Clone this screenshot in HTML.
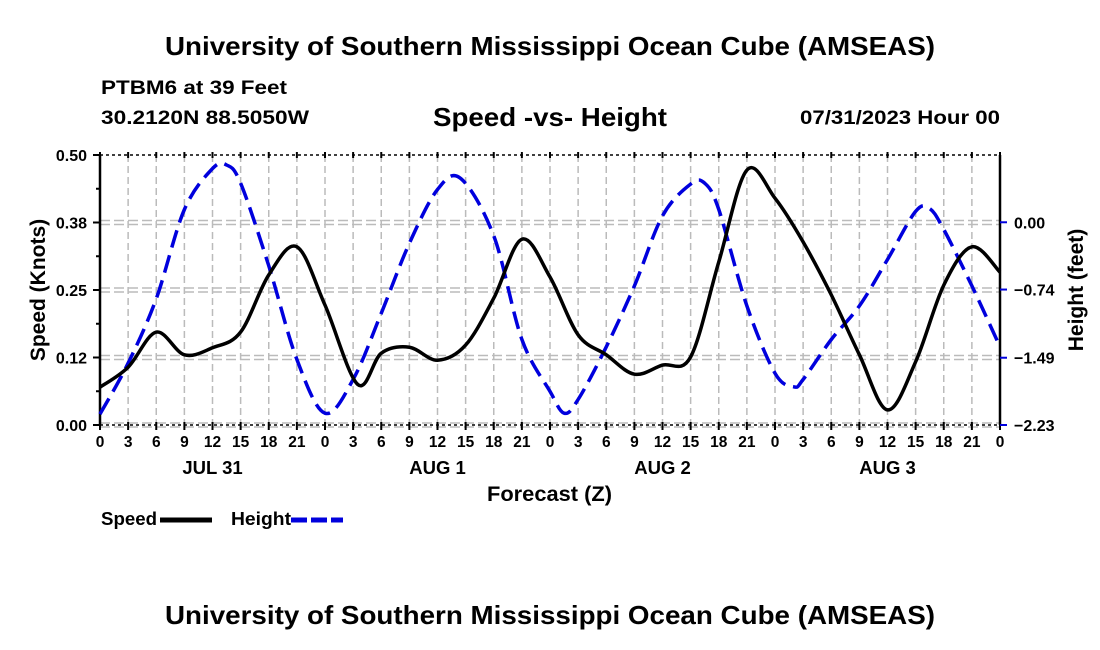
<!DOCTYPE html>
<html><head><meta charset="utf-8"><style>
body{margin:0;background:#fff;}
svg{display:block;font-family:"Liberation Sans",Arial,sans-serif;font-weight:bold;}
</style></head><body>
<svg id="chart" width="1100" height="650" xmlns="http://www.w3.org/2000/svg">
<text x="165" y="55" font-size="26" textLength="770" lengthAdjust="spacingAndGlyphs">University of Southern Mississippi Ocean Cube (AMSEAS)</text>
<text x="101" y="94" font-size="19" textLength="186" lengthAdjust="spacingAndGlyphs">PTBM6 at 39 Feet</text>
<text x="101" y="124" font-size="19" textLength="208" lengthAdjust="spacingAndGlyphs">30.2120N  88.5050W</text>
<text x="433" y="126" font-size="26" textLength="234" lengthAdjust="spacingAndGlyphs">Speed -vs- Height</text>
<text x="800" y="124" font-size="19" textLength="200" lengthAdjust="spacingAndGlyphs">07/31/2023 Hour 00</text>
<g id="grid"></g>
<g id="axes"></g>
<g id="series"></g>
<text x="487" y="501" font-size="21" textLength="125" lengthAdjust="spacingAndGlyphs">Forecast (Z)</text>
<text transform="translate(45,290) rotate(-90)" text-anchor="middle" font-size="21">Speed (Knots)</text>
<text transform="translate(1083,290) rotate(-90)" text-anchor="middle" font-size="21">Height (feet)</text>
<g>
<text x="101" y="525" font-size="18" textLength="56" lengthAdjust="spacingAndGlyphs">Speed</text>
<line x1="160" y1="520" x2="212" y2="520" stroke="#000" stroke-width="5"/>
<text x="231" y="525" font-size="18" textLength="60" lengthAdjust="spacingAndGlyphs">Height</text>
<line x1="291" y1="520" x2="343" y2="520" stroke="#0000dd" stroke-width="5" stroke-dasharray="16,4"/>
</g>
<text x="165" y="624" font-size="26" textLength="770" lengthAdjust="spacingAndGlyphs">University of Southern Mississippi Ocean Cube (AMSEAS)</text>
</svg>
<script>
const speedHours=[0,3,6,9,12,15,18,21,24,27.5,30,33,36,39,42,45,48,51,54,57,60,63,66,69,72,75,78,81,84,87,90,93,96];
const speedVals=[0.07,0.107,0.172,0.13,0.143,0.172,0.278,0.33,0.222,0.075,0.133,0.144,0.12,0.148,0.235,0.344,0.274,0.167,0.13,0.094,0.111,0.126,0.302,0.472,0.42,0.339,0.241,0.13,0.028,0.117,0.259,0.33,0.283];
const heightHours=[0,3,6,9,12,13.5,15,18,21,24,27,30,33,36,38.5,42,45,48,49.5,51,54,57,60,63,64.5,66,69,72,74,75,78,81,84,87,88.5,90,93,96];
const heightVals=[-2.11,-1.55,-0.84,0.14,0.59,0.63,0.43,-0.48,-1.51,-2.1,-1.73,-1.0,-0.23,0.36,0.48,-0.15,-1.29,-1.86,-2.1,-1.95,-1.37,-0.7,0.07,0.42,0.43,0.14,-0.92,-1.66,-1.81,-1.73,-1.29,-0.92,-0.41,0.12,0.15,-0.08,-0.7,-1.37];
const speedTicks=["0.00","0.12","0.25","0.38","0.50"];
const heightTicks=["-2.23","-1.49","-0.74","0.00"];
const dayLabels=["JUL 31","AUG 1","AUG 2","AUG 3"];

const NS="http://www.w3.org/2000/svg";
const L=100,R=1000,T=155,B=425;
const xS=h=>L+(h/96)*(R-L);
const yS=v=>B-(v/0.5)*(B-T);
const yH=v=>B-((v+2.23)/2.97)*(B-T);
function mk(tag,attrs,parent){const e=document.createElementNS(NS,tag);for(const k in attrs)e.setAttribute(k,attrs[k]);parent.appendChild(e);return e;}
const grid=document.getElementById('grid'),axes=document.getElementById('axes'),series=document.getElementById('series');
for(let h=3;h<96;h+=3){
 const g=mk('line',{x1:xS(h),x2:xS(h),y1:T,y2:B,stroke:'#bbb','stroke-width':1.5,'stroke-dasharray':'7,4'},grid);
 
 
}
for(let i=0;i<speedTicks.length;i++){
 const v=i*0.125,y=yS(v);
 if(i===4)continue;
 for(const d of [-2,2]){
  const g=mk('line',{x1:L,x2:R,y1:y+d,y2:y+d,stroke:'#bbb','stroke-width':1.5,'stroke-dasharray':'10,4'},grid);
  
  
 }
}
mk('line',{x1:L,x2:L,y1:T,y2:B,stroke:'#000','stroke-width':2.5},axes);
mk('line',{x1:R,x2:R,y1:T,y2:B,stroke:'#000','stroke-width':2.5},axes);
mk('line',{x1:L,x2:R,y1:T,y2:T,stroke:'#000','stroke-width':1.5,'stroke-dasharray':'3,3'},axes);
mk('line',{x1:L,x2:R,y1:B,y2:B,stroke:'#000','stroke-width':1.5,'stroke-dasharray':'3,3'},axes);
for(let h=0;h<=96;h+=3){
 const x=xS(h);
 mk('line',{x1:x,x2:x,y1:T-3,y2:T+3,stroke:'#000','stroke-width':2},axes);
 mk('line',{x1:x,x2:x,y1:B-3,y2:B+5,stroke:'#000','stroke-width':2},axes);
 const t=mk('text',{x:x,y:B+22,'text-anchor':'middle','font-size':15.5},axes);
 t.textContent=String(h%24);
 
 
}
dayLabels.forEach((d,i)=>{
 const t=mk('text',{x:xS(i*24+12),y:B+49,'text-anchor':'middle','font-size':18.5},axes);
 t.textContent=d;
 
 
});
speedTicks.forEach((s,i)=>{
 const y=yS(i*0.125);
 mk('line',{x1:L-7,x2:L,y1:y,y2:y,stroke:'#000','stroke-width':2},axes);
 if(i<4)mk('line',{x1:L-4,x2:L,y1:yS(i*0.125+0.0625),y2:yS(i*0.125+0.0625),stroke:'#000','stroke-width':2},axes);
 const t=mk('text',{x:L-13,y:y+6,'text-anchor':'end','font-size':16},axes);
 t.textContent=s;
 
 
});
heightTicks.forEach(s=>{
 const y=yH(parseFloat(s));
 mk('line',{x1:R,x2:R+7,y1:y,y2:y,stroke:'#0000dd','stroke-width':2},axes);
 const t=mk('text',{x:R+14,y:y+6,'font-size':16},axes);
 t.textContent=s.replace('-','\u2212');
 
 
});
function smooth(pts){
 let d='M'+pts[0][0].toFixed(1)+','+pts[0][1].toFixed(1);
 for(let i=0;i<pts.length-1;i++){
  const p0=pts[Math.max(0,i-1)],p1=pts[i],p2=pts[i+1],p3=pts[Math.min(pts.length-1,i+2)];
  const c1=[p1[0]+(p2[0]-p0[0])/6,p1[1]+(p2[1]-p0[1])/6];
  const c2=[p2[0]-(p3[0]-p1[0])/6,p2[1]-(p3[1]-p1[1])/6];
  d+=' C'+c1.map(v=>v.toFixed(1)).join(',')+' '+c2.map(v=>v.toFixed(1)).join(',')+' '+p2[0].toFixed(1)+','+p2[1].toFixed(1);
 }
 return d;
}
const hp=mk('path',{d:smooth(heightHours.map((h,i)=>[xS(h),yH(heightVals[i])])),fill:'none',stroke:'#0000dd','stroke-width':3.5,'stroke-dasharray':'18,8'},series);


const sp=mk('path',{d:smooth(speedHours.map((h,i)=>[xS(h),yS(speedVals[i])])),fill:'none',stroke:'#000','stroke-width':3.5},series);


</script>
</body></html>
